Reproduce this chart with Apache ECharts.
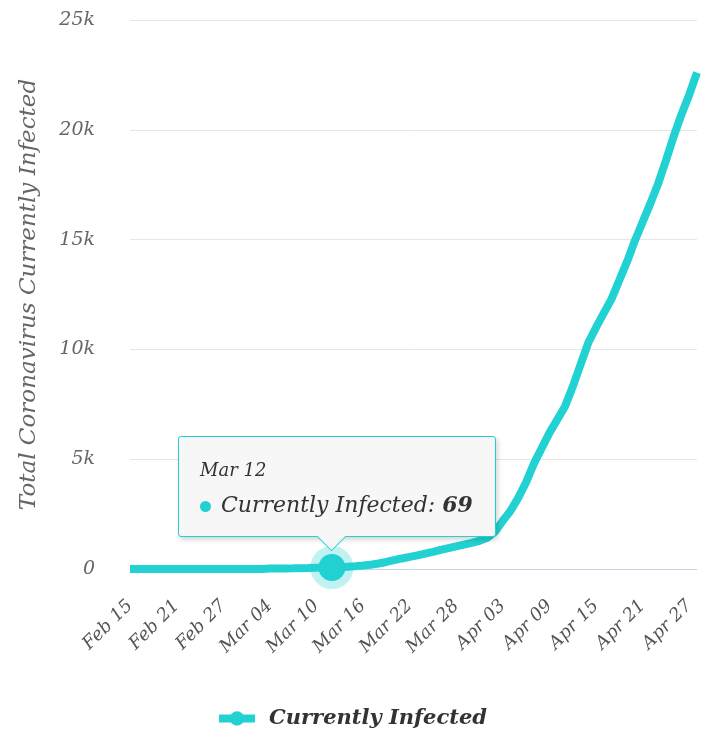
<!DOCTYPE html>
<html>
<head>
<meta charset="utf-8">
<script src="https://cdn.jsdelivr.net/npm/echarts@6/dist/echarts.min.js"></script>
<style>
  html, body { margin: 0; padding: 0; background: #fff; }
  #chart { width: 702px; height: 737px; }
</style>
</head>
<body>
<div id="chart"></div>
<script>
// daily dates, Feb 15 -> Apr 28
const dates = [
  "Feb 15", "Feb 16", "Feb 17", "Feb 18", "Feb 19", "Feb 20", "Feb 21", "Feb 22", "Feb 23", "Feb 24",
  "Feb 25", "Feb 26", "Feb 27", "Feb 28", "Feb 29",
  "Mar 01", "Mar 02", "Mar 03", "Mar 04", "Mar 05", "Mar 06", "Mar 07", "Mar 08", "Mar 09", "Mar 10",
  "Mar 11", "Mar 12", "Mar 13", "Mar 14", "Mar 15", "Mar 16", "Mar 17", "Mar 18", "Mar 19", "Mar 20",
  "Mar 21", "Mar 22", "Mar 23", "Mar 24", "Mar 25", "Mar 26", "Mar 27", "Mar 28", "Mar 29", "Mar 30",
  "Mar 31",
  "Apr 01", "Apr 02", "Apr 03", "Apr 04", "Apr 05", "Apr 06", "Apr 07", "Apr 08", "Apr 09", "Apr 10",
  "Apr 11", "Apr 12", "Apr 13", "Apr 14", "Apr 15", "Apr 16", "Apr 17", "Apr 18", "Apr 19", "Apr 20",
  "Apr 21", "Apr 22", "Apr 23", "Apr 24", "Apr 25", "Apr 26", "Apr 27", "Apr 28"
];

const infected = [
  3, 3, 3, 3, 3, 0, 0, 0, 0, 0,
  0, 0, 0, 0, 0,
  0, 2, 3, 25, 27, 28, 31, 36, 40, 53,
  59, 69, 80, 100, 125, 155, 195, 250, 320, 400,
  480, 550, 620, 700, 780, 870, 950, 1030, 1110, 1190,
  1280,
  1420, 1700, 2200, 2650, 3250, 3950, 4800, 5500, 6200, 6800,
  7400, 8300, 9300, 10300, 11000, 11650, 12300, 13150, 14000, 14950,
  15800, 16650, 17550, 18600, 19700, 20700, 21600, 22600
];

const yTicks = [0, 5000, 10000, 15000, 20000, 25000];
const seriesName = "Currently Infected";
const tipIndex = 26; // Mar 12

const teal = "#22d1d1";
const tipBg = "#f7f7f7";
const font = "DejaVu Serif";

const chart = echarts.init(document.getElementById("chart"));

const lineData = infected.map((v, i) => {
  if (i !== tipIndex) return v;
  return {
    value: v,
    symbol: "circle",
    symbolSize: 27,
    itemStyle: {
      color: teal,
      borderColor: "rgba(34,209,209,0.28)",
      borderWidth: 16
    }
  };
});

chart.setOption({
  animation: false,
  grid: { left: 130, right: 5, top: 20, bottom: 168 },
  tooltip: {
    trigger: "item",
    triggerOn: "none",
    alwaysShowContent: true,
    backgroundColor: tipBg,
    borderColor: teal,
    borderWidth: 1,
    padding: [16, 22, 14, 21],
    extraCssText: "box-shadow: 2px 3px 5px rgba(0,0,0,0.16); border-radius: 3px; overflow: visible;",
    position: (point, params, dom, rect, size) => {
      const w = size.contentSize[0];
      const h = size.contentSize[1];
      return [point[0] + 5 - w / 2, point[1] - 30 - h];
    },
    formatter: (p) =>
      '<div style="font-family:DejaVu Serif;font-style:italic;color:#333;font-size:18px;line-height:34px">' +
      p.name + "</div>" +
      '<div style="font-family:DejaVu Serif;font-style:italic;color:#333;font-size:22px;line-height:34px">' +
      '<span style="display:inline-block;width:11px;height:11px;border-radius:6px;background:' + teal +
      ';margin-right:10px;vertical-align:middle"></span>' +
      p.seriesName + ": <b>" + p.value + "</b></div>" +
      // pointer under the box
      '<div style="position:absolute;left:calc(50% - 16px);bottom:-11px;width:20px;height:20px;' +
      "background:" + tipBg + ";border-right:1px solid " + teal + ";border-bottom:1px solid " + teal +
      ';transform:rotate(45deg);"></div>'
  },
  legend: {
    bottom: 3,
    left: "center",
    itemWidth: 36,
    itemHeight: 18,
    itemGap: 14,
    lineStyle: { width: 8 },
    textStyle: {
      fontFamily: font,
      fontStyle: "italic",
      fontWeight: "bold",
      fontSize: 21,
      color: "#333",
      padding: [0, 0, 0, 9]
    },
    data: [seriesName]
  },
  xAxis: {
    type: "category",
    boundaryGap: false,
    data: dates,
    axisLine: { lineStyle: { color: "#ccd6eb", width: 1 } },
    axisTick: { show: false },
    axisLabel: {
      interval: 5,
      rotate: 45,
      margin: 34,
      fontFamily: font,
      fontStyle: "italic",
      fontSize: 18,
      color: "#555"
    }
  },
  yAxis: {
    type: "value",
    min: yTicks[0],
    max: yTicks[yTicks.length - 1],
    interval: yTicks[1] - yTicks[0],
    name: "Total Coronavirus Currently Infected",
    nameLocation: "middle",
    nameGap: 89,
    nameTextStyle: {
      fontFamily: font,
      fontStyle: "italic",
      fontSize: 23,
      color: "#666"
    },
    axisLine: { show: false },
    axisTick: { show: false },
    splitLine: { lineStyle: { color: "#e6e6e6", width: 1 } },
    axisLabel: {
      margin: 35,
      fontFamily: font,
      fontStyle: "italic",
      fontSize: 19,
      color: "#666",
      formatter: (v) => (v === 0 ? "0" : v / 1000 + "k")
    }
  },
  series: [
    {
      name: seriesName,
      type: "line",
      symbol: "none",
      showSymbol: true,
      showAllSymbol: true,
      color: teal,
      lineStyle: { color: teal, width: 8 },
      emphasis: { disabled: true },
      data: lineData
    }
  ]
});

chart.dispatchAction({ type: "showTip", seriesIndex: 0, dataIndex: tipIndex });
</script>
</body>
</html>
